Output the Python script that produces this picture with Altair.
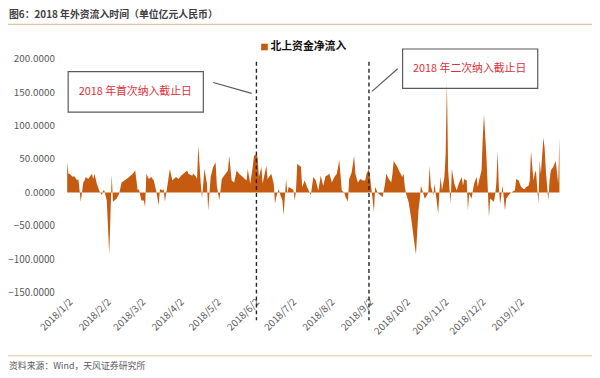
import altair as alt
import pandas as pd

# ---------------- data ----------------
dates = [
    "2018-01-02", "2018-01-03", "2018-01-04", "2018-01-06", "2018-01-08", "2018-01-10", "2018-01-11",
    "2018-01-13", "2018-01-15", "2018-01-16", "2018-01-17", "2018-01-19", "2018-01-22", "2018-01-23",
    "2018-01-24", "2018-01-26", "2018-01-28", "2018-01-30", "2018-01-31",
    "2018-02-01", "2018-02-03", "2018-02-05", "2018-02-07", "2018-02-08", "2018-02-11", "2018-02-13",
    "2018-02-15", "2018-02-19", "2018-02-21", "2018-02-24", "2018-02-26", "2018-02-28",
    "2018-03-01", "2018-03-03", "2018-03-05", "2018-03-06", "2018-03-07", "2018-03-09", "2018-03-11",
    "2018-03-13", "2018-03-15", "2018-03-17", "2018-03-18", "2018-03-20", "2018-03-21", "2018-03-22",
    "2018-03-24", "2018-03-26", "2018-03-28", "2018-03-31",
    "2018-04-02", "2018-04-04", "2018-04-06", "2018-04-09", "2018-04-10", "2018-04-13", "2018-04-14",
    "2018-04-16", "2018-04-17", "2018-04-18", "2018-04-20", "2018-04-21", "2018-04-23", "2018-04-25",
    "2018-04-26", "2018-04-28", "2018-04-30",
    "2018-05-02", "2018-05-03", "2018-05-05", "2018-05-07", "2018-05-10", "2018-05-12", "2018-05-13",
    "2018-05-15", "2018-05-17", "2018-05-19", "2018-05-21", "2018-05-24", "2018-05-27", "2018-05-28",
    "2018-05-30",
    "2018-06-01", "2018-06-02", "2018-06-04", "2018-06-05", "2018-06-06", "2018-06-08", "2018-06-09",
    "2018-06-12", "2018-06-13", "2018-06-16", "2018-06-18", "2018-06-19", "2018-06-20", "2018-06-22",
    "2018-06-23", "2018-06-25", "2018-06-26", "2018-06-28", "2018-06-29", "2018-06-30",
    "2018-07-03", "2018-07-04", "2018-07-05", "2018-07-06", "2018-07-07", "2018-07-10", "2018-07-11",
    "2018-07-13", "2018-07-15", "2018-07-17", "2018-07-18", "2018-07-20", "2018-07-22", "2018-07-24",
    "2018-07-26", "2018-07-28", "2018-07-30", "2018-07-31",
    "2018-08-02", "2018-08-04", "2018-08-06", "2018-08-08", "2018-08-10", "2018-08-12", "2018-08-14",
    "2018-08-15", "2018-08-17", "2018-08-18", "2018-08-20", "2018-08-22", "2018-08-23", "2018-08-25",
    "2018-08-27", "2018-08-29", "2018-08-31",
    "2018-09-01", "2018-09-03", "2018-09-04", "2018-09-05", "2018-09-07", "2018-09-08", "2018-09-10",
    "2018-09-12", "2018-09-14", "2018-09-16", "2018-09-17", "2018-09-19", "2018-09-21", "2018-09-22",
    "2018-09-23", "2018-09-26", "2018-09-28", "2018-09-30",
    "2018-10-01", "2018-10-02", "2018-10-03", "2018-10-05", "2018-10-07", "2018-10-09", "2018-10-11",
    "2018-10-13", "2018-10-14", "2018-10-15", "2018-10-17", "2018-10-18", "2018-10-19", "2018-10-21",
    "2018-10-22", "2018-10-23", "2018-10-25", "2018-10-26", "2018-10-27", "2018-10-29", "2018-10-30",
    "2018-10-31",
    "2018-11-01", "2018-11-03", "2018-11-04", "2018-11-05", "2018-11-06", "2018-11-07", "2018-11-08",
    "2018-11-09", "2018-11-11", "2018-11-13", "2018-11-14", "2018-11-15", "2018-11-17", "2018-11-18",
    "2018-11-19", "2018-11-21", "2018-11-22", "2018-11-23", "2018-11-25", "2018-11-26", "2018-11-27",
    "2018-11-29", "2018-11-30",
    "2018-12-01", "2018-12-03", "2018-12-04", "2018-12-05", "2018-12-07", "2018-12-08", "2018-12-09",
    "2018-12-10", "2018-12-13", "2018-12-14", "2018-12-15", "2018-12-16", "2018-12-17", "2018-12-18",
    "2018-12-19", "2018-12-20", "2018-12-22", "2018-12-23", "2018-12-24", "2018-12-25", "2018-12-27",
    "2018-12-29", "2018-12-30", "2018-12-31",
    "2019-01-02", "2019-01-03", "2019-01-04", "2019-01-06", "2019-01-07", "2019-01-08", "2019-01-10",
    "2019-01-11", "2019-01-12", "2019-01-14", "2019-01-15", "2019-01-16", "2019-01-18", "2019-01-19",
    "2019-01-20", "2019-01-22", "2019-01-23", "2019-01-24", "2019-01-26", "2019-01-27", "2019-01-28",
    "2019-01-30", "2019-01-31",
    "2019-02-01", "2019-02-03", "2019-02-04",
]

values = [
    45, 28, 28, 24, 24, 18, 20,
    -14, 15, 18, 23, 20, 28, 20,
    28, 13, 2, -4, 3,
    3, -12, -93, 27, -14, -9, -2,
    15, 20, 23, 28, 33, 3,
    5, -12, -12, -22, 28, 20, 23,
    18, 2, -19, 5, 3, 5, -14,
    10, 35, 18, 23,
    20, 25, 28, 33, 28, 25, 28,
    24, 20, 70, 13, -9, 35, 13,
    -27, 23, 38,
    45, 10, -12, 20, 28, 33, 55,
    18, 15, 33, 28, 23, 18, 35,
    13,
    38, 55, 57, 52, 23, 38, 13,
    40, 20, 28, 13, -17, -7, 5,
    -2, -12, -34, 20, -2, 8,
    5, 3, -12, 3, 43, 38, 8,
    18, 8, 0, -4, 23, 18, 3,
    25, 10, 25, 25,
    28, 15, 23, 28, 48, 3, 0,
    -7, -14, 20, 30, 55, 28, 15,
    20, 18, 18,
    28, 35, 20, 5, -29, 8, 0,
    -4, -7, 13, 28, 20, 15, 28,
    47, 38, 30, 23,
    28, 8, -2, -14, -37, -66, -93,
    -27, -12, 10, -2, -9, -7, 0,
    40, 10, -4, 13, -2, -32, 3,
    23,
    3, 23, 57, 166, 33, 8, -17,
    35, 13, 3, 10, 15, 23, 10,
    20, 18, -27, -2, -9, 3, 13,
    23, 8,
    18, 33, 82, 117, 52, 8, -37,
    -9, -14, -4, 15, 62, 8, -17,
    -4, 10, -27, -9, -7, -4, 0,
    2, 3, 20,
    18, 13, 8, 5, 5, 8, 10,
    18, 62, 18, 28, 33, -17, 47,
    28, 82, 67, 33, -12, 18, 33,
    38, 43,
    47, 13, 82,
]

month_ticks = [
    (2018, 1, 2), (2018, 2, 2), (2018, 3, 2), (2018, 4, 2), (2018, 5, 2), (2018, 6, 2), (2018, 7, 2),
    (2018, 8, 2), (2018, 9, 2), (2018, 10, 2), (2018, 11, 2), (2018, 12, 2), (2019, 1, 2),
]
y_ticks = [-150, -100, -50, 0, 50, 100, 150, 200]
cutoff_dates = ["2018-06-04", "2018-09-03"]

title_text = "图6：2018 年外资流入时间（单位亿元人民币）"
source_text = "资料来源：Wind，天风证券研究所"
legend_text = "北上资金净流入"
note1 = "2018 年首次纳入截止日"
note2 = "2018 年二次纳入截止日"

# ---------------- styling ----------------
W, H = 499, 237
FONT = "Noto Sans CJK SC"
ORANGE = "#C55A11"
GREY = "#595959"
RED = "#E0303A"
RULE_COL = "#E2C39E"

flow = pd.DataFrame({"date": dates, "value": values})
one = pd.DataFrame({"k": [0]})


def dt(y, m, d):
    return alt.DateTime(year=y, month=m, date=d, utc=True)


x_scale = alt.Scale(type="utc", domain=[dt(2018, 1, 2), dt(2019, 2, 4)])
y_scale = alt.Scale(domain=[-150, 200], nice=False, zero=False)

area = alt.Chart(flow).mark_area(color=ORANGE, interpolate="linear").encode(
    x=alt.X(
        "date:T",
        scale=x_scale,
        axis=alt.Axis(
            values=[dt(*t) for t in month_ticks],
            labelExpr="utcFormat(datum.value, '%Y/%-m/%-d')",
            labelAngle=-45,
            labelAlign="right",
            labelBaseline="top",
            labelPadding=4,
            labelFont=FONT,
            labelFontSize=10,
            labelColor=GREY,
            labelOverlap=False,
            domain=False,
            ticks=False,
            grid=False,
            title=None,
        ),
    ),
    y=alt.Y(
        "value:Q",
        scale=y_scale,
        axis=alt.Axis(
            values=y_ticks,
            format=".4f",
            labelFont=FONT,
            labelFontSize=10,
            labelColor=GREY,
            labelPadding=13,
            domain=False,
            ticks=False,
            grid=False,
            title=None,
        ),
    ),
    y2=alt.datum(0),
)

cut = alt.Chart(pd.DataFrame({"date": cutoff_dates})).mark_rule(
    color="#222222", strokeDash=[4, 3], strokeWidth=1.4
).encode(x=alt.X("date:T", scale=x_scale), y=alt.value(3), y2=alt.value(265))


def box(x1, x2, y1, y2):
    return alt.Chart(one).mark_rect(fillOpacity=0, stroke=GREY, strokeWidth=1.2).encode(
        x=alt.value(x1), x2=alt.value(x2), y=alt.value(y1), y2=alt.value(y2)
    )


def seg(x1, y1, x2, y2, color=GREY, width=1.2):
    return alt.Chart(one).mark_rule(color=color, strokeWidth=width).encode(
        x=alt.value(x1), x2=alt.value(x2), y=alt.value(y1), y2=alt.value(y2)
    )


def label(x, y, text, size, color, weight="normal", align="left"):
    return alt.Chart(one).mark_text(
        font=FONT, fontSize=size, color=color, fontWeight=weight, align=align, baseline="middle"
    ).encode(x=alt.value(x), y=alt.value(y), text=alt.value(text))


legend_sq = alt.Chart(one).mark_square(color=ORANGE, size=45, opacity=1).encode(
    x=alt.value(200), y=alt.value(-12)
)

layers = [
    area,
    cut,
    box(1, 138, 13, 54),
    box(340, 477, -10, 30),
    seg(148, 24, 187, 35),
    seg(309, 33, 335, 10),
    label(69, 34, note1, 11, RED, align="center"),
    label(408, 10, note2, 11, RED, align="center"),
    legend_sq,
    label(206, -12, legend_text, 11, "#111111", weight="bold"),
    label(-59, -44, title_text, 10, "#404040", weight="bold"),
    seg(-60, -35, 532, -35, color=RULE_COL, width=1.2),
    seg(-60, 301, 532, 301, color=RULE_COL, width=1.0),
    label(-59, 311, source_text, 9, GREY),
]

chart = alt.layer(*layers).properties(
    width=W,
    height=H,
    padding={"left": 60, "top": 49, "right": 33, "bottom": 84},
    autosize=alt.AutoSizeParams(type="none"),
).configure_view(strokeWidth=0)

chart.save("out.html", embed_options={"renderer": "svg", "actions": False})
